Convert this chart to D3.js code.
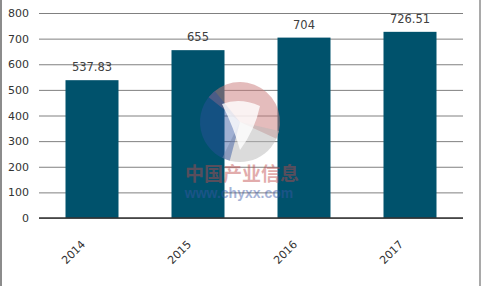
<!DOCTYPE html>
<html>
<head>
<meta charset="utf-8">
<script src="https://cdn.jsdelivr.net/npm/d3@7"></script>
<style>
  body { margin: 0; background: #fff; }
  svg { display: block; }
</style>
</head>
<body>
<div id="wrapper"></div>
<script>
const years = ["2014", "2015", "2016", "2017"];
const values = [537.83, 655, 704, 726.51];
const valueLabels = ["537.83", "655", "704", "726.51"];
const yTicks = [0, 100, 200, 300, 400, 500, 600, 700, 800];

function buildPlot(){
    const dimension = {
        width: 482,
        height: 286,
        margin: { left: 39, right: 19, top: 13, bottom: 68 }
    };
    const font = "'DejaVu Sans', sans-serif";

    const svg = d3.select("#wrapper").append("svg")
        .attr("width", dimension.width)
        .attr("height", dimension.height);

    // frame lines left and right
    svg.append("line").attr("x1", 1).attr("x2", 1).attr("y1", 0).attr("y2", dimension.height)
        .attr("stroke", "#8c8c8c").attr("stroke-width", 2);
    svg.append("line").attr("x1", 480).attr("x2", 480).attr("y1", 0).attr("y2", dimension.height)
        .attr("stroke", "#8c8c8c").attr("stroke-width", 1.5);

    const x_scale = d3.scaleBand()
        .domain(years)
        .range([dimension.margin.left, dimension.width - dimension.margin.right])
        .paddingInner(0.5)
        .paddingOuter(0.25);
    const y_scale = d3.scaleLinear()
        .domain([0, 800])
        .range([dimension.height - dimension.margin.bottom, dimension.margin.top]);

    // grid lines
    const y_axis = d3.axisLeft(y_scale)
        .tickValues(yTicks)
        .tickSize(-(dimension.width - dimension.margin.left - dimension.margin.right))
        .tickPadding(10);
    const gy = svg.append("g")
        .attr("transform", `translate(${dimension.margin.left},0)`)
        .call(y_axis);
    gy.select(".domain").remove();
    gy.selectAll(".tick line").attr("stroke", "#808080").attr("stroke-width", 1);
    gy.selectAll(".tick text").attr("fill", "#333").style("font-size", "11px").style("font-family", font);

    // bars
    svg.append("g").selectAll("rect")
        .data(values)
        .join("rect")
        .attr("x", (d, i) => x_scale(years[i]))
        .attr("y", d => y_scale(d))
        .attr("width", x_scale.bandwidth())
        .attr("height", d => y_scale(0) - y_scale(d))
        .attr("fill", "#00526c");

    // value labels
    svg.append("g").selectAll("text")
        .data(values)
        .join("text")
        .attr("x", (d, i) => x_scale(years[i]) + x_scale.bandwidth() / 2)
        .attr("y", d => y_scale(d) - 9)
        .attr("text-anchor", "middle")
        .attr("fill", "#404040")
        .style("font-size", "11.5px")
        .style("font-family", font)
        .text((d, i) => valueLabels[i]);

    // watermark, on top of the bars
    const wm = svg.append("g").attr("transform", "translate(240,122)");
    const arc = d3.arc();
    wm.append("path").attr("d", arc({innerRadius: 0, outerRadius: 40, startAngle: -0.9, endAngle: 2.0}))
        .attr("fill", "#c97a7a").attr("opacity", 0.5);
    wm.append("path").attr("d", arc({innerRadius: 0, outerRadius: 40, startAngle: 1.8, endAngle: 3.6}))
        .attr("fill", "#b8b8b8").attr("opacity", 0.5);
    wm.append("path").attr("d", arc({innerRadius: 0, outerRadius: 40, startAngle: 3.4, endAngle: 5.6}))
        .attr("fill", "#2c4f9e").attr("opacity", 0.45);
    wm.append("path")
        .attr("d", "M-18,-18 Q0,-25 20,-16 Q15,8 0,28 Q-6,6 -18,-18 Z")
        .attr("fill", "#fff").attr("opacity", 0.8);
    svg.append("text").attr("x", 242).attr("y", 181).attr("text-anchor", "middle")
        .style("font-family", "'Noto Sans CJK SC', sans-serif").style("font-size", "19px")
        .style("font-weight", "bold").attr("fill", "#c04a4a").attr("opacity", 0.45)
        .text("中国产业信息");
    svg.append("text").attr("x", 239).attr("y", 198).attr("text-anchor", "middle")
        .style("font-family", "Arial, 'Liberation Sans', sans-serif").style("font-size", "14px")
        .style("font-weight", "bold").attr("fill", "#3a58a8").attr("opacity", 0.45)
        .text("www.chyxx.com");

    // x axis
    const x_axis = d3.axisBottom(x_scale).tickSize(0).tickPadding(0);
    const gx = svg.append("g")
        .attr("transform", `translate(0,${y_scale(0)})`)
        .call(x_axis);
    gx.select(".domain").attr("stroke", "#333").attr("stroke-width", 1.5)
        .attr("d", `M${dimension.margin.left},0H${dimension.width - dimension.margin.right}`);
    gx.selectAll(".tick text")
        .attr("y", 0).attr("dy", 0)
        .attr("text-anchor", "end")
        .attr("transform", "translate(-6,27) rotate(-45)")
        .attr("fill", "#333")
        .style("font-size", "11px")
        .style("font-family", font);
}
buildPlot();
</script>
</body>
</html>
